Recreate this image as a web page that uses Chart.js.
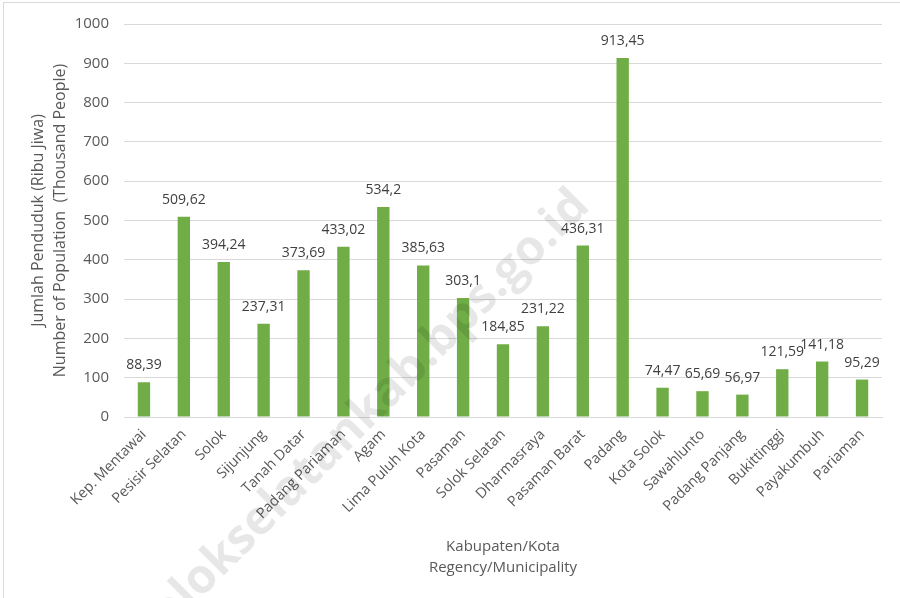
<!DOCTYPE html>
<html>
<head>
<meta charset="utf-8">
<script src="https://cdn.jsdelivr.net/npm/chart.js@4"></script>
<style>
  html, body { margin: 0; padding: 0; background: #fff; }
  #wrap { width: 900px; height: 598px; position: relative; }
</style>
</head>
<body>
<div id="wrap"><canvas id="c" width="900" height="598"></canvas></div>
<script>
const categories = ["Kep. Mentawai", "Pesisir Selatan", "Solok", "Sijunjung", "Tanah Datar", "Padang Pariaman", "Agam", "Lima Puluh Kota", "Pasaman", "Solok Selatan", "Dharmasraya", "Pasaman Barat", "Padang", "Kota Solok", "Sawahlunto", "Padang Panjang", "Bukittinggi", "Payakumbuh", "Pariaman"];
const population = [88.39, 509.62, 394.24, 237.31, 373.69, 433.02, 534.2, 385.63, 303.1, 184.85, 231.22, 436.31, 913.45, 74.47, 65.69, 56.97, 121.59, 141.18, 95.29];
const yTitle = ["Jumlah Penduduk (Ribu Jiwa)", "Number of Population  (Thousand People)"];
const xTitle = ["Kabupaten/Kota", "Regency/Municipality"];
const watermarkText = "solokselatankab.bps.go.id";

const FONT = "'Open Sans', 'Noto Sans', sans-serif";

const framePlugin = {
  id: 'frame',
  beforeDraw(chart) {
    const ctx = chart.ctx;
    ctx.save();
    ctx.fillStyle = '#ffffff';
    ctx.fillRect(0, 0, chart.width, chart.height);
    ctx.strokeStyle = '#d9d9d9';
    ctx.lineWidth = 1;
    ctx.strokeRect(3.5, 2.5, chart.width + 10, chart.height + 10);
    ctx.restore();
  }
};

const labelPlugin = {
  id: 'valueLabels',
  afterDatasetsDraw(chart) {
    const ctx = chart.ctx;
    const meta = chart.getDatasetMeta(0);
    const data = chart.data.datasets[0].data;
    ctx.save();
    ctx.font = "14px " + FONT;
    ctx.fillStyle = '#404040';
    ctx.textAlign = 'center';
    ctx.textBaseline = 'middle';
    meta.data.forEach((bar, i) => {
      const txt = String(data[i]).replace('.', ',');
      ctx.fillText(txt, bar.x, bar.y - 17);
    });
    ctx.restore();
  }
};

const watermarkPlugin = {
  id: 'watermark',
  afterDraw(chart) {
    const ctx = chart.ctx;
    ctx.save();
    ctx.translate(362, 418);
    ctx.rotate(-Math.PI / 4);
    ctx.font = "bold 48px " + FONT;
    ctx.fillStyle = 'rgba(0,0,0,0.095)';
    ctx.textAlign = 'center';
    ctx.textBaseline = 'middle';
    ctx.fillText(watermarkText, 0, 0);
    ctx.restore();
  }
};

new Chart(document.getElementById('c'), {
  type: 'bar',
  data: {
    labels: categories,
    datasets: [{
      data: population,
      backgroundColor: '#70AD47',
      borderWidth: 0,
      barPercentage: 0.62,
      categoryPercentage: 0.5
    }]
  },
  options: {
    responsive: false,
    animation: false,
    devicePixelRatio: 1,
    layout: { padding: { left: 0, right: 18, top: 19, bottom: 0 } },
    plugins: {
      legend: { display: false },
      tooltip: { enabled: false },
      title: { display: false }
    },
    scales: {
      y: {
        min: 0,
        max: 1000,
        ticks: {
          stepSize: 100,
          color: '#595959',
          font: { family: FONT, size: 15 },
          padding: 15,
          callback: (v) => String(v)
        },
        grid: { color: '#d9d9d9', drawTicks: false, lineWidth: 1 },
        border: { display: false },
        title: {
          display: true,
          text: yTitle,
          color: '#595959',
          font: { family: FONT, size: 16, lineHeight: 1.375 },
          padding: { top: 27, bottom: 0 }
        },
        afterFit(scale) { scale.width = 124; }
      },
      x: {
        ticks: {
          color: '#595959',
          font: { family: FONT, size: 14.5 },
          minRotation: 45,
          maxRotation: 45,
          autoSkip: false,
          padding: 9
        },
        grid: { display: false, drawTicks: false },
        border: { display: true, color: '#d9d9d9', width: 1 },
        title: {
          display: true,
          text: xTitle,
          color: '#595959',
          font: { family: FONT, size: 15, lineHeight: 1.4 },
          padding: { top: 0, bottom: 20 }
        },
        afterFit(scale) { scale.height = 181; }
      }
    }
  },
  plugins: [framePlugin, labelPlugin, watermarkPlugin]
});
</script>
</body>
</html>
